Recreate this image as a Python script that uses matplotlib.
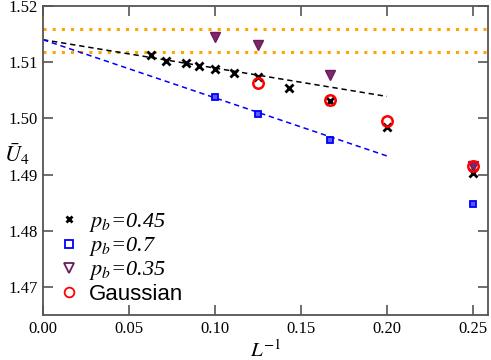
import matplotlib
matplotlib.use("Agg")
import matplotlib.pyplot as plt
from matplotlib.lines import Line2D
import numpy as np

# Data
L_045 = [16, 14, 12, 11, 10, 9, 8, 7, 6, 5, 4]
U_045 = [1.5112, 1.5102, 1.5098, 1.5094, 1.5088, 1.5081, 1.5073, 1.5054, 1.5031, 1.4984, 1.4902]
L_07 = [10, 8, 6, 4]
U_07 = [1.5038, 1.5008, 1.4962, 1.4848]
L_035 = [10, 8, 6, 4]
U_035 = [1.5144, 1.5131, 1.5077, 1.4915]
L_gauss = [8, 6, 5, 4]
U_gauss = [1.5063, 1.5032, 1.4995, 1.4915]
fit_x = [0.0, 0.2]
fit_045 = [1.5140, 1.5039]
fit_07 = [1.5140, 1.4933]
band = [1.5119, 1.5159]

xticks = [0.00, 0.05, 0.10, 0.15, 0.20, 0.25]
yticks = [1.47, 1.48, 1.49, 1.50, 1.51, 1.52]

plt.rcParams['mathtext.fontset'] = 'stix'
serif = 'Liberation Serif'

fig = plt.figure(figsize=(4.91, 3.6), dpi=100)
ax = fig.add_axes([43/491, 1 - 315/360, (488 - 43)/491, (315 - 6)/360])

for b in band:
    ax.axhline(b, color='#ffa500', lw=2.2, linestyle=(0, (1, 2)), zorder=1)

ax.plot(fit_x, fit_045, color='black', lw=1.1, linestyle=(0, (3.5, 2.5)), zorder=2)
ax.plot(fit_x, fit_07, color='#0000ff', lw=1.1, linestyle=(0, (3.5, 2.5)), zorder=2)

inv = lambda L: 1.0 / np.asarray(L, dtype=float)
ax.plot(inv(L_045), U_045, linestyle='none', marker='x', ms=5.5, mew=2.0, color='black', zorder=3)
ax.plot(inv(L_07), U_07, linestyle='none', marker='s', ms=5, mew=1.3, mec='#0000ff', mfc='#5a5aff', zorder=3)
ax.plot(inv(L_035), U_035, linestyle='none', marker='v', ms=7, mew=1.0, mec='#6e1a5c', mfc='#7a2a68', zorder=4)
ax.plot(inv(L_gauss), U_gauss, linestyle='none', marker='o', ms=7.5, mew=1.8, mec='#ff0000', mfc='none', zorder=5)

ax.set_xlim(0, 0.2587)
ax.set_ylim(1.465, 1.52)
ax.set_xticks(xticks)
ax.set_yticks(yticks)
ax.set_xticklabels([f"{t:.2f}" for t in xticks], fontfamily=serif, fontsize=12)
ax.set_yticklabels([f"{t:.2f}" for t in yticks], fontfamily=serif, fontsize=12)
ax.tick_params(direction='in', length=7, width=1.2, color='#555555',
               top=True, right=True, pad=4)
for s in ax.spines.values():
    s.set_color('#555555')
    s.set_linewidth(1.3)

ax.set_xlabel(r'$L^{\mathit{-1}}$', fontsize=15, labelpad=2)
ax.set_ylabel(r'$\bar{U}_4$', fontsize=16, rotation=0, va='center', ha='center')
ax.yaxis.set_label_coords(-0.058, 0.52)

handles = [
    Line2D([], [], linestyle='none', marker='x', ms=5, mew=2.0, color='black'),
    Line2D([], [], linestyle='none', marker='s', ms=6, mew=1.3, mec='#0000ff', mfc='none'),
    Line2D([], [], linestyle='none', marker='v', ms=7, mew=1.3, mec='#6e1a5c', mfc='none'),
    Line2D([], [], linestyle='none', marker='o', ms=7, mew=1.3, mec='#ff0000', mfc='none'),
]
labels = [r'$p_b$=0.45', r'$p_b$=0.7', r'$p_b$=0.35', 'Gaussian']
leg = ax.legend(handles, labels, loc='lower left', bbox_to_anchor=(0.013, 0.005),
                frameon=False, fontsize=16, handlelength=1.0, handletextpad=0.4,
                labelspacing=0.05, borderaxespad=0.0)
for t in leg.get_texts()[:3]:
    t.set_fontstyle('italic')
    t.set_fontfamily(serif)
leg.get_texts()[3].set_fontfamily('Liberation Sans')

fig.savefig('out.png', dpi=100)
